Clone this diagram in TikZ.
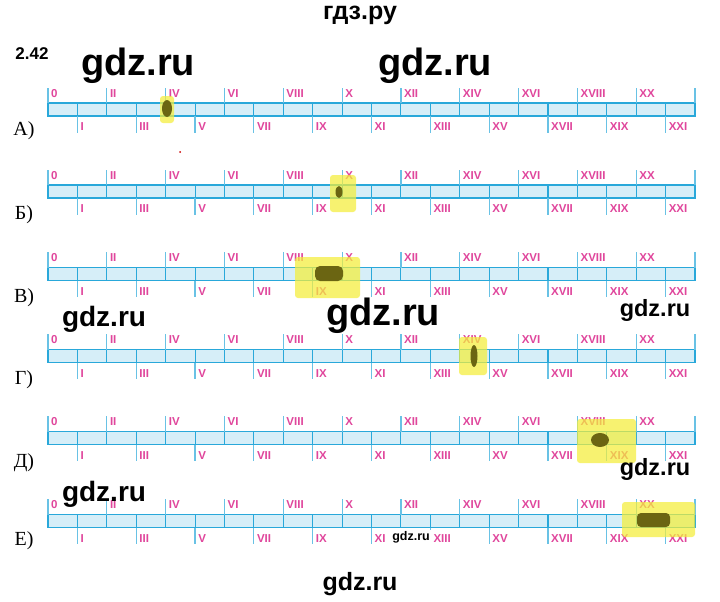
\documentclass[tikz,border=0pt]{standalone}
\usepackage{fontspec}
\setmainfont{Liberation Serif}
\newfontfamily\wmfont{Liberation Sans}
\definecolor{barline}{HTML}{29A8DA}
\definecolor{barfill}{HTML}{D6EEF8}
\definecolor{numpink}{HTML}{E0469C}
\definecolor{hilite}{HTML}{F4EE3A}
\definecolor{blobcol}{HTML}{6B6512}
\tikzset{
  rowbar/.style={draw=barline, line width=1.6pt, fill=barfill},
  sepline/.style={draw=barline, line width=1.1pt},
  tickline/.style={draw=barline!70, line width=1.2pt},
  numlab/.style={text=numpink, font=\wmfont\bfseries\fontsize{11.5}{11.5}\selectfont, inner sep=0pt, anchor=west},
  rowlab/.style={font=\fontsize{20}{20}\selectfont, inner sep=0pt},
  wm/.style={font=\wmfont\bfseries\fontsize{#1}{#1}\selectfont, inner sep=0pt},
  hl/.style={fill=hilite, fill opacity=0.72, draw=none, rounded corners=3pt},
  blobmark/.style={fill=blobcol, draw=none},
}
\begin{document}
\begin{tikzpicture}[x=1pt,y=-1pt]
\useasboundingbox[fill=white] (0,0) rectangle (720,602);
% rulers
\foreach \yc/\lt/\ly [count=\r] in {109.5/А/131, 191.5/Б/215, 274/В/298, 356/Г/380, 438/Д/463, 521/Е/541} {
  \path[rowbar] (48,\yc-6.5) rectangle (695,\yc+6.5);
  \foreach \k/\rn in {0/0,1/I,2/II,3/III,4/IV,5/V,6/VI,7/VII,8/VIII,9/IX,10/X,11/XI,12/XII,13/XIII,14/XIV,15/XV,16/XVI,17/XVII,18/XVIII,19/XIX,20/XX,21/XXI} {
    \pgfmathsetmacro{\xx}{48+\k*29.41}
    \ifnum\k>0 \draw[sepline] (\xx,\yc-6.5) -- (\xx,\yc+6.5); \fi
    \ifodd\k
      \draw[tickline] (\xx,\yc+6.5) -- (\xx,\yc+23);
      \node[numlab] (n\r-\k) at (\xx+3,\yc+17.5) {\rn};
    \else
      \draw[tickline] (\xx,\yc-6.5) -- (\xx,\yc-22);
      \node[numlab] (n\r-\k) at (\xx+3,\yc-16) {\rn};
    \fi
  }
  \draw[tickline] (695,\yc-6.5) -- (695,\yc-22);
  \node[rowlab] (row\r) at (24,\ly) {\lt)};
}
% highlights
\path[hl] (160,96) rectangle (174,123);
\path[blobmark] (167,108.5) ellipse [x radius=5, y radius=8.5];
\path[hl] (330,175) rectangle (356,212);
\path[blobmark] (339,192) ellipse [x radius=3.5, y radius=6];
\path[hl] (295,257) rectangle (360,298);
\path[blobmark, rounded corners=5pt] (315,266) rectangle (343,281);
\path[hl] (459,337) rectangle (487,375);
\path[blobmark] (474,356) ellipse [x radius=3.5, y radius=11];
\path[hl] (577,419) rectangle (636,463);
\path[blobmark] (600,440) ellipse [x radius=9, y radius=7];
\path[hl] (622,502) rectangle (695,537);
\path[blobmark, rounded corners=4pt] (637,513) rectangle (670,527);
\fill[red!80!black] (180,152) circle [radius=1];
% watermarks and titles
\node[wm=25] (t1) at (360,15) {гдз.ру};
\node[wm=17] (t2) at (32,54) {2.42};
\node[wm=38] (w1) at (138,66) {gdz.ru};
\node[wm=38] (w2) at (435,66) {gdz.ru};
\node[wm=28] (w3) at (104,319) {gdz.ru};
\node[wm=38] (w4) at (383,316) {gdz.ru};
\node[wm=23.5] (w5) at (655,310) {gdz.ru};
\node[wm=23.5] (w6) at (655,469) {gdz.ru};
\node[wm=28] (w7) at (104,494) {gdz.ru};
\node[wm=12.5, fill=white, inner sep=1pt] (w8) at (411,537) {gdz.ru};
\node[wm=25] (w9) at (360,584) {gdz.ru};
\end{tikzpicture}
\end{document}
